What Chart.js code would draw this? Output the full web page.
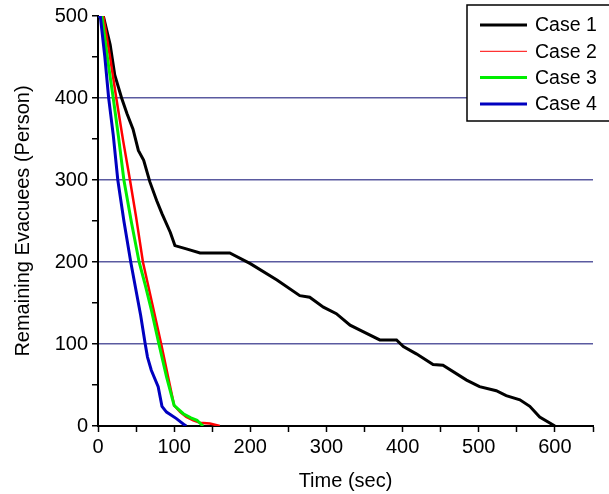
<!DOCTYPE html>
<html>
<head>
<meta charset="utf-8">
<script src="https://cdn.jsdelivr.net/npm/chart.js@4/dist/chart.umd.min.js"></script>
<style>
html,body{margin:0;padding:0;background:#fff;}
canvas{display:block;}
</style>
</head>
<body>
<canvas id="c" width="609" height="494"></canvas>
<script>
// ---- data ----
const seriesNames = ["Case 1", "Case 2", "Case 3", "Case 4"];
const case1Time  = [0, 7, 16, 22, 31, 38, 46, 53, 60, 68, 77, 84, 95, 101, 116, 134, 173, 200, 235, 265, 278, 296, 313, 331, 348, 370, 392, 401, 418, 440, 453, 484, 501, 523, 536, 554, 567, 580, 600];
const case1Value = [500, 500, 465, 428, 400, 381, 362, 336, 324, 298, 275, 259, 236, 220, 216, 211, 211, 198, 178, 159, 157, 145, 137, 123, 115, 105, 105, 97, 88, 75, 74, 56, 48, 43, 37, 32, 24, 11, 0];
const case2Time  = [0, 7, 16, 24, 33, 42, 50, 59, 65, 71, 83, 92, 100, 108, 116, 125, 134, 147, 160];
const case2Value = [500, 500, 449, 400, 348, 300, 255, 200, 175, 150, 100, 60, 25, 17, 11, 7, 4, 3, 0];
const case3Time  = [0, 5, 13, 20, 27, 34, 44, 54, 62, 70, 80, 90, 100, 105, 112, 122, 130, 138];
const case3Value = [500, 500, 445, 400, 352, 300, 248, 200, 172, 142, 100, 60, 25, 21, 15, 10, 7, 0];
const case4Time  = [0, 3, 9, 14, 20, 26, 34, 43, 50, 56, 62, 65, 70, 79, 84, 90, 103, 114, 116];
const case4Value = [500, 500, 450, 400, 355, 300, 250, 200, 165, 135, 100, 84, 68, 48, 24, 17, 9, 1, 0];
const xTicksLabeled = [0, 100, 200, 300, 400, 500, 600];
const yTicksLabeled = [0, 100, 200, 300, 400, 500];
const xTitle = "Time (sec)";
const yTitle = "Remaining Evacuees (Person)";

const colors = ["#000000", "#ff0000", "#00ee00", "#0000c0"];
const widths = [3, 2.5, 3, 3];
const legendWidths = [3, 1, 3, 3];

function pts(t, v){ return t.map((x,i)=>({x:x, y:v[i]})); }
const allT = [case1Time, case2Time, case3Time, case4Time];
const allV = [case1Value, case2Value, case3Value, case4Value];

const datasets = seriesNames.map((n,i)=>({
  label: n,
  data: pts(allT[i], allV[i]),
  borderColor: colors[i],
  backgroundColor: colors[i],
  borderWidth: widths[i],
  pointRadius: 0,
  tension: 0,
  fill: false,
  order: 4 - i
}));

const FONT = "'Liberation Sans', Arial, sans-serif";

const legendPlugin = {
  id: 'boxLegend',
  afterDraw(chart){
    const ctx = chart.ctx;
    ctx.save();
    const x0 = 467, y0 = 5, x1 = 612, y1 = 121;
    ctx.fillStyle = '#fff';
    ctx.fillRect(x0, y0, x1-x0, y1-y0);
    ctx.strokeStyle = '#000';
    ctx.lineWidth = 1.5;
    ctx.strokeRect(x0, y0, x1-x0, y1-y0);
    ctx.font = "19.5px " + FONT;
    ctx.textBaseline = 'middle';
    ctx.textAlign = 'left';
    chart.data.datasets.forEach((d,i)=>{
      const y = 25 + i*26.3;
      ctx.strokeStyle = d.borderColor;
      ctx.lineWidth = legendWidths[i];
      ctx.beginPath();
      ctx.moveTo(480, y);
      ctx.lineTo(527, y);
      ctx.stroke();
      ctx.fillStyle = '#000';
      ctx.fillText(d.label, 535, y+1);
    });
    ctx.restore();
  }
};

new Chart(document.getElementById('c'), {
  type: 'line',
  data: { datasets: datasets },
  plugins: [legendPlugin],
  options: {
    responsive: false,
    animation: false,
    devicePixelRatio: 1,
    layout: { padding: { left: 0, right: 16, top: 15, bottom: 0 } },
    plugins: { legend: { display: false }, tooltip: { enabled: false } },
    scales: {
      x: {
        type: 'linear',
        min: 0, max: 650,
        afterFit(s){ s.height = 68; },
        ticks: {
          stepSize: 50,
          autoSkip: false,
          maxRotation: 0,
          padding: 3,
          color: '#000',
          font: { size: 20, family: FONT },
          callback(v){ return xTicksLabeled.includes(v) ? String(v) : ''; }
        },
        grid: {
          color: 'rgba(0,0,0,0)',
          tickColor: '#000',
          tickLength: 6,
          tickWidth: 1.5,
          drawTicks: true
        },
        border: { color: '#000', width: 2 },
        title: {
          display: true, text: xTitle, color: '#000',
          font: { size: 20, family: FONT },
          padding: { top: 0, bottom: 1 }
        }
      },
      y: {
        min: 0, max: 500,
        afterFit(s){ s.width = 98; },
        ticks: {
          stepSize: 50,
          autoSkip: false,
          padding: 4,
          color: '#000',
          font: { size: 20, family: FONT },
          callback(v){ return yTicksLabeled.includes(v) ? String(v) : ''; }
        },
        grid: {
          color(ctx){ const v = ctx.tick && ctx.tick.value; return (v===100||v===200||v===300||v===400) ? '#5a5aa0' : 'rgba(0,0,0,0)'; },
          lineWidth: 1.5,
          tickColor: '#000',
          tickLength: 6,
          tickWidth: 1.5
        },
        border: { color: '#000', width: 2 },
        title: {
          display: true, text: yTitle, color: '#000',
          font: { size: 20, family: FONT },
          padding: { top: 11, bottom: 0 }
        }
      }
    }
  }
});
</script>
</body>
</html>
